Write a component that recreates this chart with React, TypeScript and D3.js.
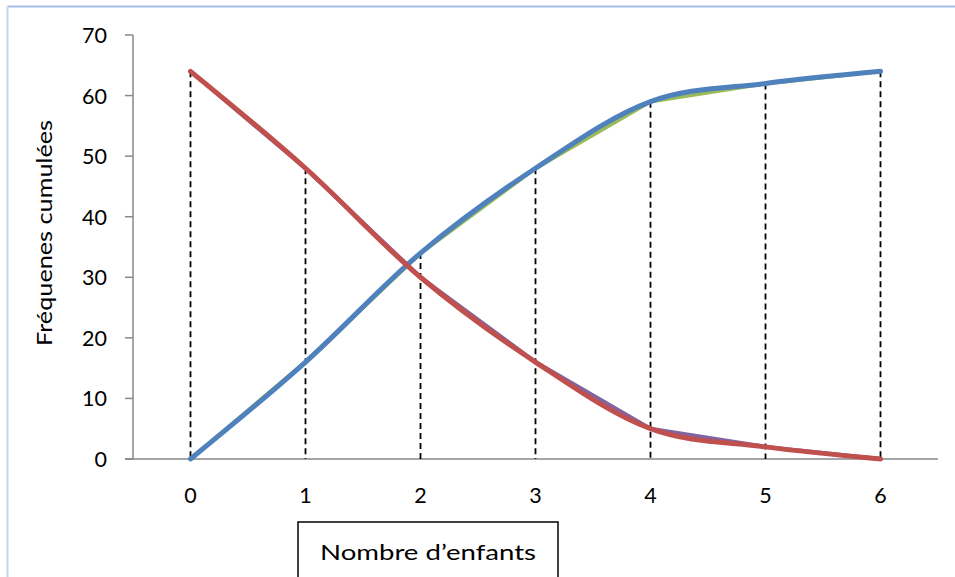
import React from "react";
import * as d3 from "d3";

const categories = ["0", "1", "2", "3", "4", "5", "6"];
const croissantes = [0, 16, 34, 48, 59, 62, 64];
const decroissantes = [64, 48, 30, 16, 5, 2, 0];
const yTicks = [0, 10, 20, 30, 40, 50, 60, 70];
const yTitle = "Fréquenes cumulées";
const xTitle = "Nombre d\u2019enfants";

const W = 955;
const H = 577;
const FONT = "Lato, 'Open Sans', sans-serif";

export default function App() {
  const x = d3.scalePoint<string>().domain(categories).range([133, 938]).padding(0.5);
  const y = d3.scaleLinear().domain([0, 70]).range([459, 35]);

  const straight = d3
    .line<number>()
    .x((_, i) => x(categories[i]) as number)
    .y((d) => y(d));
  const smooth = d3
    .line<number>()
    .x((_, i) => x(categories[i]) as number)
    .y((d) => y(d))
    .curve(d3.curveCardinal.tension(0));

  return (
    <svg
      width={W}
      height={H}
      style={{ position: "absolute", left: 0, top: 0, background: "#fff" }}
      fontFamily={FONT}
    >
      {/* frame */}
      <line x1={7.5} y1={6.5} x2={W} y2={6.5} stroke="#a3bde6" strokeWidth={2} />
      <line x1={7.5} y1={6.5} x2={7.5} y2={H} stroke="#c4d5f0" strokeWidth={2} />

      {/* axes */}
      <line x1={133} y1={y(70)} x2={133} y2={y(0)} stroke="#888" strokeWidth={1.5} />
      <line x1={125} y1={y(0)} x2={938} y2={y(0)} stroke="#888" strokeWidth={1.5} />
      {yTicks.map((t) => (
        <g key={t}>
          <line x1={125} x2={133} y1={y(t)} y2={y(t)} stroke="#888" strokeWidth={1.5} />
          <text x={107} y={y(t)} textAnchor="end" dominantBaseline="central" fontSize={21.5} fill="#000">
            {t}
          </text>
        </g>
      ))}
      {categories.map((c) => (
        <text key={c} x={x(c)} y={495} textAnchor="middle" dominantBaseline="central" fontSize={21.5} fill="#000">
          {c}
        </text>
      ))}

      {/* dashed drop lines */}
      {categories.map((c, i) => (
        <line
          key={"d" + c}
          x1={x(c)}
          x2={x(c)}
          y1={y(Math.max(croissantes[i], decroissantes[i]))}
          y2={y(0)}
          stroke="#000"
          strokeWidth={1.8}
          strokeDasharray="6,4"
        />
      ))}

      {/* series */}
      <path d={straight(croissantes) || ""} fill="none" stroke="#9bbb59" strokeWidth={4} strokeLinejoin="round" />
      <path d={straight(decroissantes) || ""} fill="none" stroke="#8064a2" strokeWidth={4} strokeLinejoin="round" />
      <path d={smooth(croissantes) || ""} fill="none" stroke="#4f81bd" strokeWidth={5} strokeLinecap="round" />
      <path d={smooth(decroissantes) || ""} fill="none" stroke="#c0504d" strokeWidth={5} strokeLinecap="round" />

      {/* y title */}
      <text
        transform={`translate(43,233) rotate(-90)`}
        textAnchor="middle"
        dominantBaseline="central"
        fontSize={21}
        fill="#000"
        textLength={226}
        lengthAdjust="spacingAndGlyphs"
      >
        {yTitle}
      </text>

      {/* x title box */}
      <rect x={298} y={522} width={260} height={70} fill="#fff" stroke="#000" strokeWidth={1.5} />
      <text
        x={428}
        y={551}
        textAnchor="middle"
        dominantBaseline="central"
        fontSize={22}
        fill="#000"
        textLength={216}
        lengthAdjust="spacingAndGlyphs"
      >
        {xTitle}
      </text>
    </svg>
  );
}
